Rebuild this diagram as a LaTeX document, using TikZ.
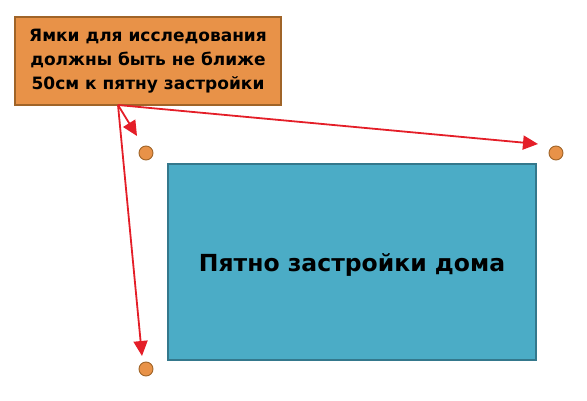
\documentclass[tikz,border=0pt]{standalone}
\usepackage{fontspec}
\setmainfont{DejaVu Sans}
\usetikzlibrary{arrows.meta}
\definecolor{boxor}{RGB}{232,146,72}
\definecolor{boxorb}{RGB}{160,100,40}
\definecolor{house}{RGB}{75,172,198}
\definecolor{houseb}{RGB}{52,120,140}
\definecolor{arr}{RGB}{228,30,40}
\tikzset{
  note/.style={draw=boxorb, fill=boxor, line width=1.2pt, minimum width=266pt, minimum height=88pt, inner sep=0pt, align=center, font=\bfseries\fontsize{17}{24}\selectfont},
  hs/.style={draw=houseb, fill=house, line width=1.4pt, minimum width=368pt, minimum height=196pt, inner sep=0pt},
  pit/.style={circle, draw=boxorb, fill=boxor, line width=0.9pt, minimum size=14pt, inner sep=0pt},
  ar/.style={draw=arr, line width=1.8pt, -{Triangle[length=15pt,width=14pt]}}
}
\begin{document}
\begin{tikzpicture}[x=1pt,y=-1pt]
\useasboundingbox (0,0) rectangle (587,401);
\node[note] (n) at (148,61) {Ямки для исследования\\должны быть не ближе\\50см к пятну застройки};
\node[hs] (h) at (352,262) {};
\node[font=\bfseries\fontsize{23.5}{28}\selectfont] (ht) at (352,265) {Пятно застройки дома};
\node[pit] (p1) at (146,153) {};
\node[pit] (p2) at (556,153) {};
\node[pit] (p3) at (146,369) {};
\coordinate (s) at (118,105);
\draw[ar] (s) -- (137,136);
\draw[ar] (s) -- (538,144);
\draw[ar] (s) -- (142,356);
\end{tikzpicture}
\end{document}
